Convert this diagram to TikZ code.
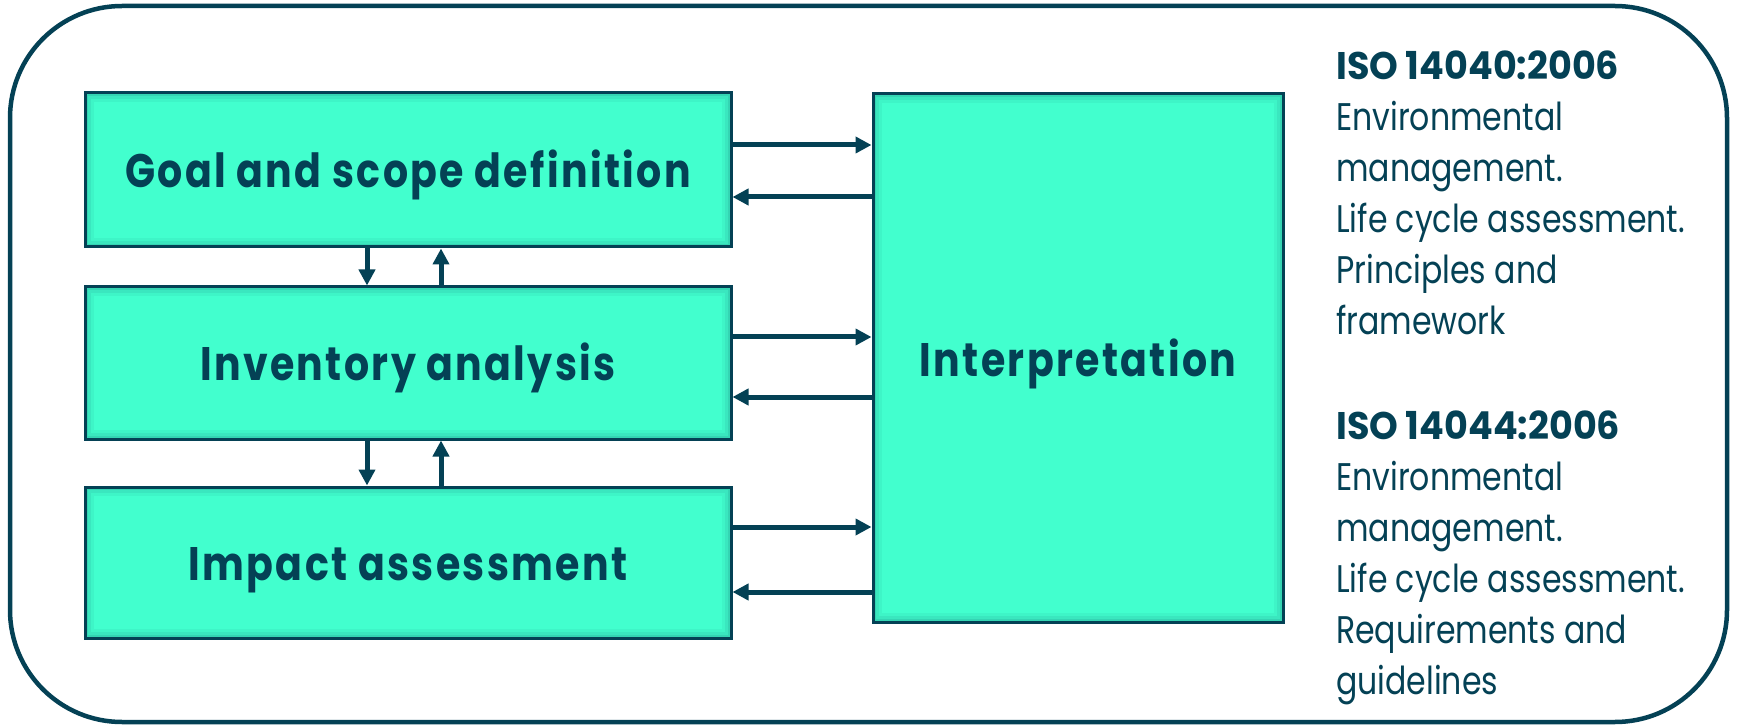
\documentclass[tikz,border=0pt]{standalone}
\usepackage{fontspec}
\setmainfont{Poppins}
\newfontfamily\stagefont[FakeStretch=0.84,LetterSpace=5]{Poppins}
\newfontfamily\isofont[FakeStretch=0.82]{Poppins}
\newfontfamily\isoheadfont[FakeStretch=0.95]{Poppins}
\usetikzlibrary{arrows.meta}
\definecolor{lcadark}{RGB}{4,65,85}
\definecolor{lcafill}{RGB}{66,255,206}

\begin{document}
\begin{tikzpicture}[x=1pt,y=-1pt,
   stage/.style={draw=lcadark,line width=3pt,fill=lcafill,text=lcadark,
     inner sep=0pt,text height=36pt,text depth=0pt,
     font=\stagefont\bfseries\fontsize{47}{56}\selectfont},
   flow/.style={draw=lcadark,line width=5pt,-{Triangle[length=16pt,width=16pt]}},
   isohead/.style={anchor=base west,inner sep=0pt,text=lcadark,
     font=\isoheadfont\bfseries\fontsize{38.5}{51}\selectfont},
   isoline/.style={anchor=base west,inner sep=0pt,text=lcadark,
     font=\isofont\fontsize{38.5}{51}\selectfont}]
\useasboundingbox (0,0) rectangle (1738,727);
\draw[lcadark,line width=4.5pt,rounded corners=112pt] (10,6) rectangle (1727,722);

% the four phases
\node[stage,minimum width=646pt,minimum height=154pt] (goal) at (408,170) {Goal and scope definition};
\node[stage,minimum width=646pt,minimum height=152pt] (inv) at (408,363) {Inventory analysis};
\node[stage,minimum width=646pt,minimum height=151pt] (imp) at (408,562.5) {Impact assessment};
\node[stage,minimum width=410pt,minimum height=528pt] (interp) at (1078,358) {Interpretation};

% inner shadow of the boxes
\foreach \n in {goal,inv,imp,interp}
  \foreach \k/\op in {3/0.22,6/0.12,9/0.05}
    \draw[lcadark,opacity=\op,line width=3pt]
      ([xshift=\k pt,yshift=-\k pt]\n.north west) rectangle ([xshift=-\k pt,yshift=\k pt]\n.south east);

% to and from interpretation
\foreach \n/\up/\dn in {goal/25/-27,inv/26/-34,imp/35.5/-29.5}{
  \coordinate (\n-out) at ([yshift=\up pt]\n.east);
  \coordinate (\n-in) at ([yshift=\dn pt]\n.east);
  \draw[flow] (\n-out) -- (\n-out -| interp.west);
  \draw[flow] (\n-in -| interp.west) -- (\n-in);
}

% between the phases
\foreach \a/\b in {goal/inv,inv/imp}{
  \coordinate (\a-dn) at ([xshift=-41pt]\a.south);
  \coordinate (\a-up) at ([xshift=33pt]\a.south);
  \draw[flow] (\a-dn) -- (\a-dn |- \b.north);
  \draw[flow] (\a-up |- \b.north) -- (\a-up);
}

% standards
\node[isohead] (isoA) at (1336,80) {ISO 14040:2006};
\foreach \line [count=\i] in {Environmental,management.,Life cycle assessment.,Principles and,framework}
  \node[isoline] (isoA-\i) at (1336,80+51*\i) {\line};
\node[isohead] (isoB) at (1336,439) {ISO 14044:2006};
\foreach \line [count=\i] in {Environmental,management.,Life cycle assessment.,Requirements and,guidelines}
  \node[isoline] (isoB-\i) at (1336,439+51*\i) {\line};
\end{tikzpicture}
\end{document}
